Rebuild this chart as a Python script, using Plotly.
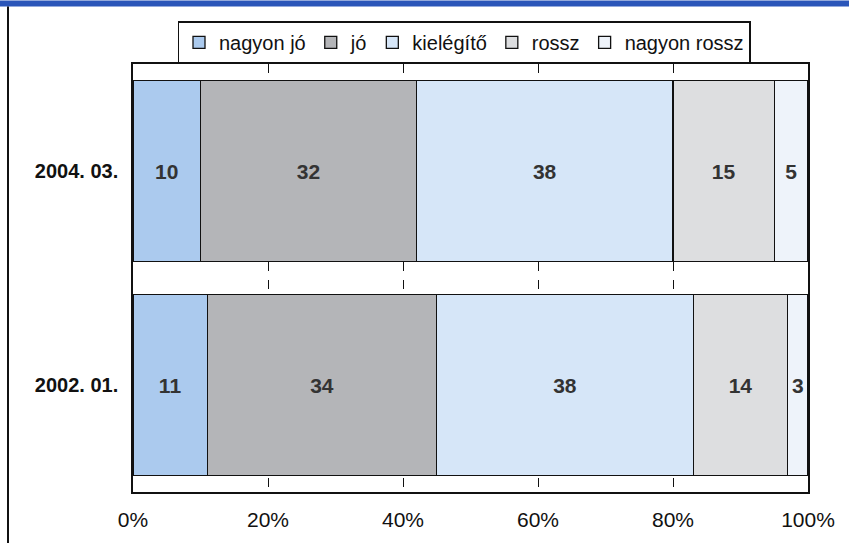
import plotly.graph_objects as go

# Survey periods (bottom to top) and response categories
periods = ["2002. 01.", "2004. 03."]
categories = ["nagyon jó", "jó", "kielégítő", "rossz", "nagyon rossz"]

# Share of answers (%) per category, ordered like `periods`
values = {
    "nagyon jó": [11, 10],
    "jó": [34, 32],
    "kielégítő": [38, 38],
    "rossz": [14, 15],
    "nagyon rossz": [3, 5],
}

colors = {
    "nagyon jó": "#abcaee",
    "jó": "#b4b5b8",
    "kielégítő": "#d6e6f8",
    "rossz": "#dddee0",
    "nagyon rossz": "#eef3fa",
}

x_ticks = [0, 20, 40, 60, 80, 100]
x_tick_labels = ["0%", "20%", "40%", "60%", "80%", "100%"]

FONT = "Liberation Sans, Arial, sans-serif"

fig = go.Figure()
for cat in categories:
    fig.add_trace(go.Bar(
        name=cat,
        y=periods,
        x=values[cat],
        orientation="h",
        width=0.845,
        marker=dict(color=colors[cat], line=dict(color="#111111", width=1.3)),
        text=[str(v) for v in values[cat]],
        textposition="inside",
        insidetextanchor="middle",
        textangle=0,
        textfont=dict(family=FONT, size=21, color="#333333", weight="bold"),
        constraintext="none",
    ))

# Plot area in pixels: left 133, right 808, top 64, bottom 496
L, R, T, B = 133, 808, 64, 496
W, H = 849, 543
pw, ph = R - L, B - T

def px_x(x):
    return (x - L) / pw

def px_y(y):
    return 1 - (y - T) / ph

shapes = [
    # blue header strip
    dict(type="rect", xref="paper", yref="paper",
         x0=px_x(0), x1=px_x(W), y0=px_y(6), y1=px_y(0),
         fillcolor="#2b56b9", line=dict(width=0), layer="above"),
    # left frame line
    dict(type="line", xref="paper", yref="paper",
         x0=px_x(8), x1=px_x(8), y0=px_y(W), y1=px_y(6),
         line=dict(color="#111111", width=2)),
]

fig.update_layout(
    width=W, height=H,
    margin=dict(l=L, r=W - R, t=T, b=H - B),
    paper_bgcolor="white",
    plot_bgcolor="white",
    barmode="stack",
    showlegend=True,
    legend=dict(
        orientation="h",
        x=px_x(464), xanchor="center",
        y=px_y(21), yanchor="top",
        bgcolor="white",
        bordercolor="#111111",
        borderwidth=1.5,
        font=dict(family=FONT, size=20, color="#111111"),
        traceorder="normal",
        itemwidth=30,
        tracegroupgap=0,
    ),
    xaxis=dict(
        range=[0, 100],
        tickvals=x_ticks,
        ticktext=x_tick_labels,
        showgrid=True,
        gridcolor="#111111",
        griddash="dash",
        gridwidth=1,
        showline=True,
        linecolor="#111111",
        linewidth=1.5,
        mirror=True,
        zeroline=False,
        ticks="",
        ticklabelstandoff=8,
        tickfont=dict(family=FONT, size=21, color="#111111"),
        fixedrange=True,
    ),
    yaxis=dict(
        type="category",
        categoryorder="array",
        categoryarray=periods,
        range=[-0.5, 1.5],
        showgrid=False,
        showline=True,
        linecolor="#111111",
        linewidth=1.5,
        mirror=True,
        ticks="",
        ticklabelstandoff=9,
        tickfont=dict(family=FONT, size=20, color="#111111", weight="bold"),
        fixedrange=True,
    ),
    shapes=shapes,
)

fig.write_html("out.html")
